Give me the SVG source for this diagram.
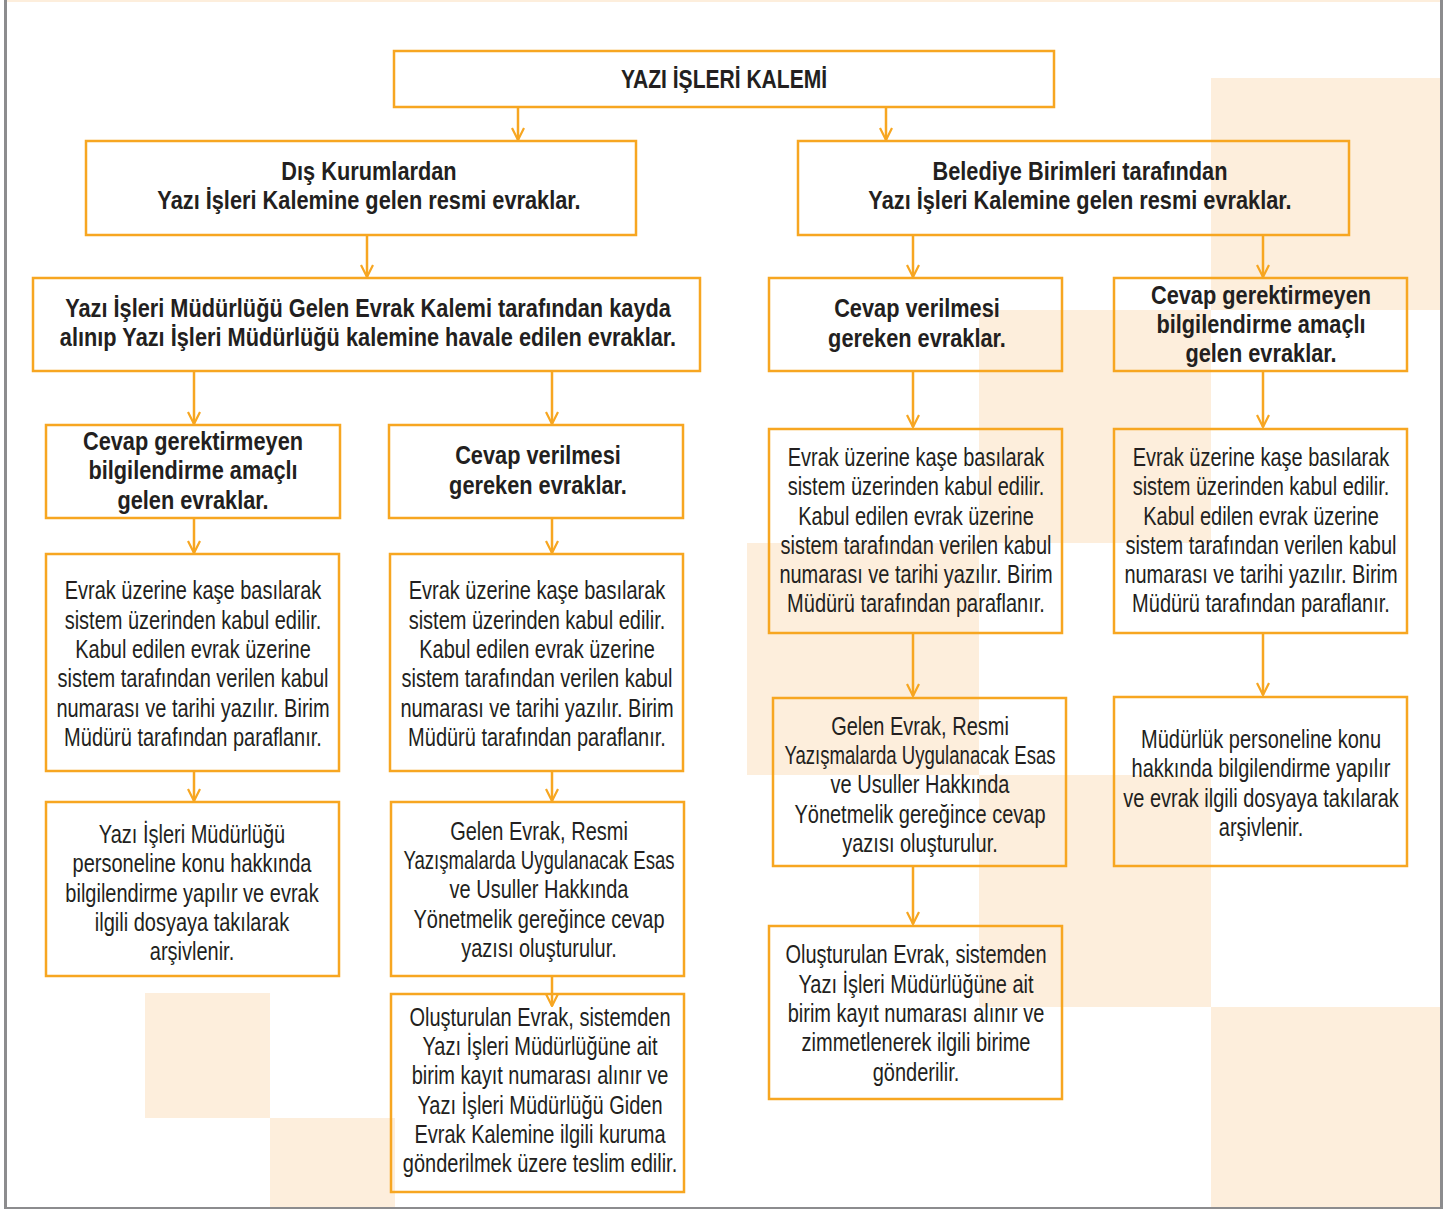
<svg xmlns="http://www.w3.org/2000/svg" width="1451" height="1209" viewBox="0 0 1451 1209">
<style>
.box{fill:none;stroke:#F7A621;stroke-width:2.5}
.ln{fill:none;stroke:#F7A621;stroke-width:2.5;marker-end:url(#ah)}
.bg{fill:#FDEEDC}
text{font-family:"Liberation Sans Narrow","Liberation Sans",sans-serif;fill:#231F20;text-anchor:middle}
.h{font-size:26px;font-weight:bold}
.t{font-size:25px}
</style>
<defs>
<marker id="ah" viewBox="0 0 14 14" markerWidth="14" markerHeight="14" refX="13" refY="7" orient="auto" markerUnits="userSpaceOnUse">
<path d="M1,1 L13,7 L1,13" fill="none" stroke="#F7A621" stroke-width="2.2"/>
</marker>
</defs>
<rect x="0" y="0" width="1451" height="1209" fill="#FFFFFF"/>
<g id="background">
<rect class="bg" x="7" y="0" width="1434" height="2"/>
<rect class="bg" x="1211" y="78" width="230" height="232"/>
<rect class="bg" x="979" y="310" width="232" height="233"/>
<rect class="bg" x="747" y="543" width="232" height="232"/>
<rect class="bg" x="979" y="775" width="232" height="232"/>
<rect class="bg" x="1211" y="1007" width="230" height="200"/>
<rect class="bg" x="145" y="993" width="125" height="125"/>
<rect class="bg" x="270" y="1118" width="125" height="89"/>
<rect x="4" y="0" width="3" height="1209" fill="#8C8C8E"/>
<rect x="1440" y="0" width="3" height="1209" fill="#8C8C8E"/>
<rect x="4" y="1207" width="1439" height="2" fill="#8C8C8E"/>
</g>
<g id="connectors">
<path class="ln" d="M518,107 V140"/>
<path class="ln" d="M886,107 V140"/>
<path class="ln" d="M367,235 V277"/>
<path class="ln" d="M194,371 V424"/>
<path class="ln" d="M552,371 V424"/>
<path class="ln" d="M194,518 V553"/>
<path class="ln" d="M552,518 V553"/>
<path class="ln" d="M194,771 V801"/>
<path class="ln" d="M552,771 V801"/>
<path class="ln" d="M552,976 V1006"/>
<path class="ln" d="M913,235 V277"/>
<path class="ln" d="M1263,235 V277"/>
<path class="ln" d="M913,371 V427"/>
<path class="ln" d="M1263,371 V427"/>
<path class="ln" d="M913,633 V696"/>
<path class="ln" d="M1263,633 V695"/>
<path class="ln" d="M913,867 V924"/>
</g>
<g id="n-top">
<rect class="box" x="394" y="51" width="660" height="56"/>
<text class="h" transform="translate(724 88) scale(.81 1)">YAZI İŞLERİ KALEMİ</text>
</g>
<g id="n-dis">
<rect class="box" x="86" y="141" width="550" height="94"/>
<text class="h" transform="translate(369 180) scale(.837 1)">Dış Kurumlardan</text>
<text class="h" transform="translate(369 209) scale(.837 1)">Yazı İşleri Kalemine gelen resmi evraklar.</text>
</g>
<g id="n-bel">
<rect class="box" x="798" y="141" width="551" height="94"/>
<text class="h" transform="translate(1080 180) scale(.837 1)">Belediye Birimleri tarafından</text>
<text class="h" transform="translate(1080 209) scale(.837 1)">Yazı İşleri Kalemine gelen resmi evraklar.</text>
</g>
<g id="n-gelen">
<rect class="box" x="33" y="278" width="667" height="93"/>
<text class="h" transform="translate(368 317) scale(.837 1)">Yazı İşleri Müdürlüğü Gelen Evrak Kalemi tarafından kayda</text>
<text class="h" transform="translate(368 346) scale(.837 1)">alınıp Yazı İşleri Müdürlüğü kalemine havale edilen evraklar.</text>
</g>
<g id="n-l3a">
<rect class="box" x="46" y="425" width="294" height="93"/>
<text class="h" transform="translate(193 450) scale(.837 1)">Cevap gerektirmeyen</text>
<text class="h" transform="translate(193 479) scale(.837 1)">bilgilendirme amaçlı</text>
<text class="h" transform="translate(193 509) scale(.837 1)">gelen evraklar.</text>
</g>
<g id="n-l3b">
<rect class="box" x="389" y="425" width="294" height="93"/>
<text class="h" transform="translate(538 464) scale(.837 1)">Cevap verilmesi</text>
<text class="h" transform="translate(538 494) scale(.837 1)">gereken evraklar.</text>
</g>
<g id="n-l4a">
<rect class="box" x="46" y="554" width="293" height="217"/>
<text class="t" transform="translate(193 599) scale(.8 1)">Evrak üzerine kaşe basılarak</text>
<text class="t" transform="translate(193 629) scale(.8 1)">sistem üzerinden kabul edilir.</text>
<text class="t" transform="translate(193 658) scale(.8 1)">Kabul edilen evrak üzerine</text>
<text class="t" transform="translate(193 687) scale(.8 1)">sistem tarafından verilen kabul</text>
<text class="t" transform="translate(193 717) scale(.8 1)">numarası ve tarihi yazılır. Birim</text>
<text class="t" transform="translate(193 746) scale(.8 1)">Müdürü tarafından paraflanır.</text>
</g>
<g id="n-l4b">
<rect class="box" x="390" y="554" width="293" height="217"/>
<text class="t" transform="translate(537 599) scale(.8 1)">Evrak üzerine kaşe basılarak</text>
<text class="t" transform="translate(537 629) scale(.8 1)">sistem üzerinden kabul edilir.</text>
<text class="t" transform="translate(537 658) scale(.8 1)">Kabul edilen evrak üzerine</text>
<text class="t" transform="translate(537 687) scale(.8 1)">sistem tarafından verilen kabul</text>
<text class="t" transform="translate(537 717) scale(.8 1)">numarası ve tarihi yazılır. Birim</text>
<text class="t" transform="translate(537 746) scale(.8 1)">Müdürü tarafından paraflanır.</text>
</g>
<g id="n-l5a">
<rect class="box" x="46" y="802" width="293" height="174"/>
<text class="t" transform="translate(192 843) scale(.8 1)">Yazı İşleri Müdürlüğü</text>
<text class="t" transform="translate(192 872) scale(.8 1)">personeline konu hakkında</text>
<text class="t" transform="translate(192 902) scale(.8 1)">bilgilendirme yapılır ve evrak</text>
<text class="t" transform="translate(192 931) scale(.8 1)">ilgili dosyaya takılarak</text>
<text class="t" transform="translate(192 960) scale(.8 1)">arşivlenir.</text>
</g>
<g id="n-l5b">
<rect class="box" x="391" y="802" width="293" height="174"/>
<text class="t" transform="translate(539 840) scale(.8 1)">Gelen Evrak, Resmi</text>
<text class="t" transform="translate(539 869) scale(.8 1)" textLength="339" lengthAdjust="spacingAndGlyphs">Yazışmalarda Uygulanacak Esas</text>
<text class="t" transform="translate(539 898) scale(.8 1)">ve Usuller Hakkında</text>
<text class="t" transform="translate(539 928) scale(.8 1)">Yönetmelik gereğince cevap</text>
<text class="t" transform="translate(539 957) scale(.8 1)">yazısı oluşturulur.</text>
</g>
<g id="n-l6b">
<rect class="box" x="391" y="994" width="293" height="198"/>
<text class="t" transform="translate(540 1026) scale(.8 1)">Oluşturulan Evrak, sistemden</text>
<text class="t" transform="translate(540 1055) scale(.8 1)">Yazı İşleri Müdürlüğüne ait</text>
<text class="t" transform="translate(540 1084) scale(.8 1)">birim kayıt numarası alınır ve</text>
<text class="t" transform="translate(540 1114) scale(.8 1)">Yazı İşleri Müdürlüğü Giden</text>
<text class="t" transform="translate(540 1143) scale(.8 1)">Evrak Kalemine ilgili kuruma</text>
<text class="t" transform="translate(540 1172) scale(.8 1)">gönderilmek üzere teslim edilir.</text>
</g>
<g id="n-r2a">
<rect class="box" x="769" y="278" width="293" height="93"/>
<text class="h" transform="translate(917 317) scale(.837 1)">Cevap verilmesi</text>
<text class="h" transform="translate(917 347) scale(.837 1)">gereken evraklar.</text>
</g>
<g id="n-r2b">
<rect class="box" x="1114" y="278" width="293" height="93"/>
<text class="h" transform="translate(1261 304) scale(.837 1)">Cevap gerektirmeyen</text>
<text class="h" transform="translate(1261 333) scale(.837 1)">bilgilendirme amaçlı</text>
<text class="h" transform="translate(1261 362) scale(.837 1)">gelen evraklar.</text>
</g>
<g id="n-r3a">
<rect class="box" x="769" y="429" width="293" height="204"/>
<text class="t" transform="translate(916 466) scale(.8 1)">Evrak üzerine kaşe basılarak</text>
<text class="t" transform="translate(916 495) scale(.8 1)">sistem üzerinden kabul edilir.</text>
<text class="t" transform="translate(916 525) scale(.8 1)">Kabul edilen evrak üzerine</text>
<text class="t" transform="translate(916 554) scale(.8 1)">sistem tarafından verilen kabul</text>
<text class="t" transform="translate(916 583) scale(.8 1)">numarası ve tarihi yazılır. Birim</text>
<text class="t" transform="translate(916 612) scale(.8 1)">Müdürü tarafından paraflanır.</text>
</g>
<g id="n-r3b">
<rect class="box" x="1114" y="429" width="293" height="204"/>
<text class="t" transform="translate(1261 466) scale(.8 1)">Evrak üzerine kaşe basılarak</text>
<text class="t" transform="translate(1261 495) scale(.8 1)">sistem üzerinden kabul edilir.</text>
<text class="t" transform="translate(1261 525) scale(.8 1)">Kabul edilen evrak üzerine</text>
<text class="t" transform="translate(1261 554) scale(.8 1)">sistem tarafından verilen kabul</text>
<text class="t" transform="translate(1261 583) scale(.8 1)">numarası ve tarihi yazılır. Birim</text>
<text class="t" transform="translate(1261 612) scale(.8 1)">Müdürü tarafından paraflanır.</text>
</g>
<g id="n-r4a">
<rect class="box" x="773" y="698" width="293" height="168"/>
<text class="t" transform="translate(920 735) scale(.8 1)">Gelen Evrak, Resmi</text>
<text class="t" transform="translate(920 764) scale(.8 1)" textLength="339" lengthAdjust="spacingAndGlyphs">Yazışmalarda Uygulanacak Esas</text>
<text class="t" transform="translate(920 793) scale(.8 1)">ve Usuller Hakkında</text>
<text class="t" transform="translate(920 823) scale(.8 1)">Yönetmelik gereğince cevap</text>
<text class="t" transform="translate(920 852) scale(.8 1)">yazısı oluşturulur.</text>
</g>
<g id="n-r5a">
<rect class="box" x="769" y="926" width="293" height="173"/>
<text class="t" transform="translate(916 963) scale(.8 1)">Oluşturulan Evrak, sistemden</text>
<text class="t" transform="translate(916 993) scale(.8 1)">Yazı İşleri Müdürlüğüne ait</text>
<text class="t" transform="translate(916 1022) scale(.8 1)">birim kayıt numarası alınır ve</text>
<text class="t" transform="translate(916 1051) scale(.8 1)">zimmetlenerek ilgili birime</text>
<text class="t" transform="translate(916 1081) scale(.8 1)">gönderilir.</text>
</g>
<g id="n-r4b">
<rect class="box" x="1114" y="697" width="293" height="169"/>
<text class="t" transform="translate(1261 748) scale(.8 1)">Müdürlük personeline konu</text>
<text class="t" transform="translate(1261 777) scale(.8 1)">hakkında bilgilendirme yapılır</text>
<text class="t" transform="translate(1261 807) scale(.8 1)">ve evrak ilgili dosyaya takılarak</text>
<text class="t" transform="translate(1261 836) scale(.8 1)">arşivlenir.</text>
</g>
</svg>
